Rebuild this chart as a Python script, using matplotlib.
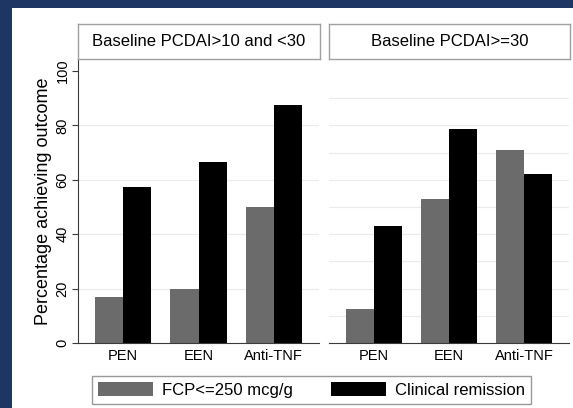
import matplotlib.pyplot as plt
import matplotlib.patches as mpatches
import numpy as np

plt.rcParams['font.family'] = ['Liberation Sans', 'DejaVu Sans']

treatments = ['PEN', 'EEN', 'Anti-TNF']
panels = ['Baseline PCDAI>10 and <30', 'Baseline PCDAI>=30']
fcp_low = [[17, 20, 50], [12.5, 53, 71]]          # FCP<=250 mcg/g
remission = [[57.5, 66.7, 87.5], [43, 78.5, 62]]  # Clinical remission
yticks = [0, 20, 40, 60, 80, 100]

W, H = 573, 408
fig = plt.figure(figsize=(W / 100, H / 100), dpi=100)
fig.patch.set_facecolor('#1e3663')
# white card behind everything
fig.patches.append(mpatches.Rectangle((12 / W, 0), 1, (H - 8) / H, transform=fig.transFigure,
                                      facecolor='white', edgecolor='none', zorder=-5))

grey = '#6b6b6b'
spine_col = '#3a3a3a'
lefts = [78, 329]
widths = [241, 240]
x = np.arange(1, 4)
w = 0.373

for i in range(2):
    ax = fig.add_axes([lefts[i] / W, (H - 343) / H, widths[i] / W, 284 / H])
    ax.set_facecolor('white')
    ax.bar(x - w / 2, fcp_low[i], w, color=grey, zorder=2)
    ax.bar(x + w / 2, remission[i], w, color='black', zorder=2)
    ax.set_xlim(0.4, 3.6)
    ax.set_ylim(0, 104.4)
    ax.set_xticks(x)
    ax.set_xticklabels(treatments, fontsize=10.5)
    ax.tick_params(axis='x', length=0, pad=4)
    if i == 0:
        grid_vals = [20, 40, 60, 80]
        ax.set_yticks(yticks)
        ax.set_yticklabels([str(v) for v in yticks], fontsize=10.5, rotation=90, va='center')
        ax.tick_params(axis='y', length=4, width=0.8, color=spine_col, pad=2)
        ax.set_ylabel('Percentage achieving outcome', fontsize=13, labelpad=3)
        ax.spines['left'].set_color(spine_col)
    else:
        grid_vals = list(range(10, 100, 10))
        ax.set_yticks([])
        ax.spines['left'].set_visible(False)
    for g in grid_vals:
        ax.axhline(g, color='#ebebeb', linewidth=0.8, zorder=1)
    ax.spines['top'].set_visible(False)
    ax.spines['right'].set_visible(False)
    ax.spines['bottom'].set_color(spine_col)

    # strip header
    hx = fig.add_axes([lefts[i] / W, (H - 59) / H, (widths[i] + 1) / W, 35 / H])
    hx.set_xticks([])
    hx.set_yticks([])
    for s in hx.spines.values():
        s.set_color('#a0a0a0')
        s.set_linewidth(1)
    hx.text(0.5, 0.5, panels[i], fontsize=12, ha='center', va='center', transform=hx.transAxes)

handles = [mpatches.Patch(facecolor=grey, edgecolor='none'),
           mpatches.Patch(facecolor='black', edgecolor='none')]
leg = fig.legend(handles, ['FCP<=250 mcg/g', 'Clinical remission'], ncol=2,
                 loc='center', bbox_to_anchor=(311.5 / W, (H - 390) / H),
                 fontsize=12, frameon=True, fancybox=False, handlelength=3.3,
                 handleheight=0.9, handletextpad=0.55, columnspacing=2.3,
                 borderpad=0.35, borderaxespad=0)
leg.get_frame().set_edgecolor('#808080')
leg.get_frame().set_linewidth(1)

fig.savefig('out.png', dpi=100, facecolor=fig.get_facecolor())
